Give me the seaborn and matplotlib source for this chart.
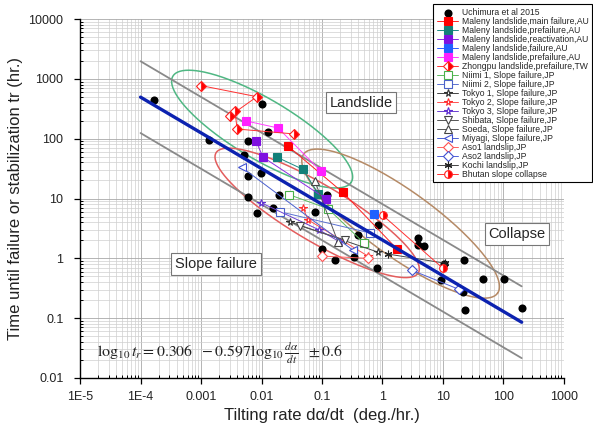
import numpy as np
import pandas as pd
import matplotlib
matplotlib.use("Agg")
import matplotlib.pyplot as plt
from matplotlib.ticker import LogLocator, NullFormatter
import seaborn as sns

# values
uchimura_x = [1.67e-4, 1.36e-3, 6.0e-3, 0.0102, 0.0128, 5.1e-3, 9.8e-3, 6.0e-3, 6.0e-3, 0.0195,
              8.4e-3, 0.0155, 0.0766, 0.121, 0.10, 0.164, 0.338, 0.394, 0.81, 0.84,
              3.86, 3.86, 4.85, 10.4, 22.2, 9.3, 45.8, 102, 21.4, 23.1, 202]
uchimura_y = [448, 94.7, 91, 383, 129, 52.8, 26.3, 23.4, 10.8, 11.6,
              5.8, 7.0, 6.0, 11.6, 1.43, 0.93, 1.05, 2.46, 0.68, 3.6,
              2.19, 1.67, 1.61, 0.80, 0.93, 0.43, 0.46, 0.46, 0.27, 0.139, 0.15]

maleny_main_x = [0.0274, 0.222, 1.74]
maleny_main_y = [75, 12.6, 1.43]
maleny_pre1_x = [0.018, 0.0485, 0.0859]
maleny_pre1_y = [49, 30.7, 12.1]
maleny_react_x = [8.1e-3, 0.0106, 0.116]
maleny_react_y = [91, 49, 9.95]
maleny_fail_x = [0.72]
maleny_fail_y = [5.56]
maleny_pre2_x = [5.5e-3, 0.0188, 0.096]
maleny_pre2_y = [198, 151, 28.5]
zhongpu_x = [1.0e-3, 8.4e-3, 3.0e-3, 3.65e-3, 3.94e-3, 0.0344]
zhongpu_y = [771, 503, 240, 292, 145, 120]
niimi1_x = [0.0285, 0.126, 0.494]
niimi1_y = [11.6, 6.76, 1.80]
niimi2_x = [0.0202, 0.62]
niimi2_y = [6.0, 2.66]
tokyo1_x = [0.0296, 0.84]
tokyo1_y = [4.07, 1.27]
tokyo2_x = [0.0485, 0.0588, 0.575]
tokyo2_y = [7.0, 4.4, 1.09]
tokyo3_x = [9.8e-3, 0.089, 0.199]
tokyo3_y = [8.5, 3.0, 1.87]
shibata_x = [0.0433, 0.24]
shibata_y = [3.49, 2.03]
soeda_x = [0.0766, 0.184]
soeda_y = [19.3, 1.87]
miyagi_x = [4.76e-3, 0.325]
miyagi_y = [33, 1.37]
aso1_x = [0.1, 0.575]
aso1_y = [1.09, 1.0]
aso2_x = [3.08, 18.4]
aso2_y = [0.63, 0.303]
kochi_x = [1.23, 10.8]
kochi_y = [1.18, 0.83]
bhutan_x = [1.02, 10.0]
bhutan_y = [5.2, 0.68]

# fit  log10 tr = 0.306 - 0.597 log10(rate)  +- 0.6
fit_a = 0.306
fit_b = -0.597
fit_band = 0.6
fit_x = [1e-4, 200]

# zone ellipses in log10 space: centre (log x, log y), half axes (decades), angle (deg)
ellipses = {
    "landslide": ((-1.99, 2.16), 1.72, 0.50, -31, "#4fb783"),
    "slope": ((-1.08, 0.76), 1.95, 0.47, -31, "#e35d5d"),
    "collapse": ((0.30, 0.58), 1.98, 0.55, -36, "#b58a66"),
}

x_ticks = [1e-5, 1e-4, 1e-3, 1e-2, 1e-1, 1, 10, 100, 1000]
x_labels = ["1E-5", "1E-4", "0.001", "0.01", "0.1", "1", "10", "100", "1000"]
y_ticks = [0.01, 0.1, 1, 10, 100, 1000, 10000]
y_labels = ["0.01", "0.1", "1", "10", "100", "1000", "10000"]

series = [
    ("Maleny landslide,main failure,AU", maleny_main_x, maleny_main_y),
    ("Maleny landslide,prefailure,AU", maleny_pre1_x, maleny_pre1_y),
    ("Maleny landslide,reactivation,AU", maleny_react_x, maleny_react_y),
    ("Maleny landslide,failure,AU", maleny_fail_x, maleny_fail_y),
    ("Maleny landslide,prefailure,AU ", maleny_pre2_x, maleny_pre2_y),
    ("Zhongpu landslide,prefailure,TW", zhongpu_x, zhongpu_y),
    ("Niimi 1, Slope failure,JP", niimi1_x, niimi1_y),
    ("Niimi 2, Slope failure,JP", niimi2_x, niimi2_y),
    ("Tokyo 1, Slope failure,JP", tokyo1_x, tokyo1_y),
    ("Tokyo 2, Slope failure,JP", tokyo2_x, tokyo2_y),
    ("Tokyo 3, Slope failure,JP", tokyo3_x, tokyo3_y),
    ("Shibata, Slope failure,JP", shibata_x, shibata_y),
    ("Soeda, Slope failure,JP", soeda_x, soeda_y),
    ("Miyagi, Slope failure,JP", miyagi_x, miyagi_y),
    ("Aso1 landslip,JP", aso1_x, aso1_y),
    ("Aso2 landslip,JP", aso2_x, aso2_y),
    ("Kochi landslip,JP", kochi_x, kochi_y),
    ("Bhutan slope collapse", bhutan_x, bhutan_y),
]

# marker, line colour, face colour, edge colour, fillstyle
styles = [
    ("s", "#ff2020", "#ff0000", "#ff0000", "full"),
    ("s", "#1a8c84", "#138079", "#138079", "full"),
    ("s", "#8a2be2", "#7f10e0", "#7f10e0", "full"),
    ("s", "#2a5cff", "#2060ff", "#2060ff", "full"),
    ("s", "#ff40ff", "#ff20ff", "#ff20ff", "full"),
    ("D", "#ff3030", "#ff0000", "#ff2020", "right"),
    ("s", "#5cb85c", "white", "#49b049", "full"),
    ("s", "#5a70d0", "white", "#4b62c8", "full"),
    ("*", "#444444", "white", "#333333", "full"),
    ("*", "#ff5050", "white", "#ff3030", "full"),
    ("*", "#6a40d0", "white", "#6030d0", "full"),
    ("v", "#555555", "white", "#444444", "full"),
    ("^", "#555555", "white", "#444444", "full"),
    ("<", "#4a60d0", "white", "#4050d0", "full"),
    ("D", "#ff6060", "white", "#ff5050", "full"),
    ("D", "#5060d8", "white", "#4050d0", "full"),
    ((6, 2, 0), "#444444", "#222222", "#222222", "full"),
    ("o", "#ff3030", "#ff0000", "#ff2020", "right"),
]

sns.set_theme(style="white")
plt.rcParams["font.family"] = ["Liberation Sans", "DejaVu Sans"]
plt.rcParams["mathtext.fontset"] = "stix"

fig = plt.figure(figsize=(5.93, 4.32), dpi=100)
ax = fig.add_axes([0.135, 0.125, 0.816, 0.831])
ax.set_xscale("log")
ax.set_yscale("log")
ax.set_xlim(1e-5, 1000)
ax.set_ylim(0.01, 10000)

ax.grid(True, which="major", color="#a8a8a8", lw=0.6, zorder=0)
ax.grid(True, which="minor", color="#cfcfcf", lw=0.5, zorder=0)
ax.set_axisbelow(True)

# zone ellipses
t = np.linspace(0, 2 * np.pi, 300)
for key, (c, a, b, ang, col) in ellipses.items():
    th = np.deg2rad(ang)
    u = c[0] + a * np.cos(t) * np.cos(th) - b * np.sin(t) * np.sin(th)
    v = c[1] + a * np.cos(t) * np.sin(th) + b * np.sin(t) * np.cos(th)
    ax.plot(10 ** u, 10 ** v, color=col, lw=1.1, zorder=2)

# fit line and band
fx = np.array(fit_x)
fy = fit_a + fit_b * np.log10(fx)
for off in (fit_band, -fit_band):
    sns.lineplot(x=fx, y=10 ** (fy + off), ax=ax, color="#8a8a8a", lw=1.3,
                 estimator=None, sort=False, zorder=3)
sns.lineplot(x=fx, y=10 ** fy, ax=ax, color="#0c22b0", lw=2.4,
             estimator=None, sort=False, zorder=6)

sns.scatterplot(x=uchimura_x, y=uchimura_y, ax=ax, color="black", s=34,
                edgecolor="black", linewidth=0, zorder=5, label="Uchimura et al 2015")

for (name, xs, ys), (m, lc, fc, ec, fs) in zip(series, styles):
    sns.lineplot(x=xs, y=ys, ax=ax, estimator=None, sort=False, color=lc,
                 lw=0.7, marker=m, markersize=5.5, markerfacecolor=fc,
                 markeredgecolor=ec, markeredgewidth=0.8, fillstyle=fs,
                 markerfacecoloralt="white", zorder=5, label=name)

if ax.get_legend() is not None:
    ax.get_legend().remove()

ax.set_xticks(x_ticks)
ax.set_xticklabels(x_labels)
ax.set_yticks(y_ticks)
ax.set_yticklabels(y_labels)
ax.xaxis.set_minor_locator(LogLocator(base=10, subs=np.arange(2, 10), numticks=20))
ax.yaxis.set_minor_locator(LogLocator(base=10, subs=np.arange(2, 10), numticks=20))
ax.xaxis.set_minor_formatter(NullFormatter())
ax.yaxis.set_minor_formatter(NullFormatter())
ax.tick_params(which="major", direction="out", length=4, width=0.9, labelsize=9,
               color="black", labelcolor="#222222", bottom=True, left=True, pad=5)
ax.tick_params(axis="y", which="major", pad=8)
ax.tick_params(which="minor", direction="in", length=2.5, width=0.7, color="black",
               bottom=True, left=True)
for s in ("top", "right"):
    ax.spines[s].set_visible(False)
for s in ("left", "bottom"):
    ax.spines[s].set_color("black")
    ax.spines[s].set_linewidth(1.0)

ax.set_xlabel("Tilting rate d\u03b1/dt  (deg./hr.)", fontsize=12, color="#222222")
ax.set_ylabel("Time until failure or stabilization tr (hr.)", fontsize=12, color="#222222",
              labelpad=4)

box = dict(boxstyle="square,pad=0.25", facecolor="white", edgecolor="#777777", lw=0.8)
ax.text(0.44, 398, "Landslide", fontsize=10.5, ha="center", va="center", bbox=box, zorder=7)
ax.text(1.77e-3, 0.80, "Slope failure", fontsize=10.5, ha="center", va="center", bbox=box, zorder=7)
ax.text(167, 2.56, "Collapse", fontsize=10.5, ha="center", va="center", bbox=box, zorder=7)
ax.text(1.9e-5, 0.026,
        r"$\log_{10}t_r = 0.306\ \ -0.597\log_{10}\frac{d\alpha}{dt}\ \ \pm 0.6$",
        fontsize=11.4, ha="left", va="center", color="#222222", zorder=7)

handles, labels = ax.get_legend_handles_labels()
leg = fig.legend(handles, [l.strip() for l in labels], loc="upper right",
                 bbox_to_anchor=(0.999, 0.99), fontsize=6.2, frameon=True,
                 fancybox=False, edgecolor="black", framealpha=1,
                 labelspacing=0.0, handlelength=2.5, handletextpad=0.45,
                 borderpad=0.4, borderaxespad=0)
leg.get_frame().set_linewidth(0.8)

fig.savefig("out.png", dpi=100)
